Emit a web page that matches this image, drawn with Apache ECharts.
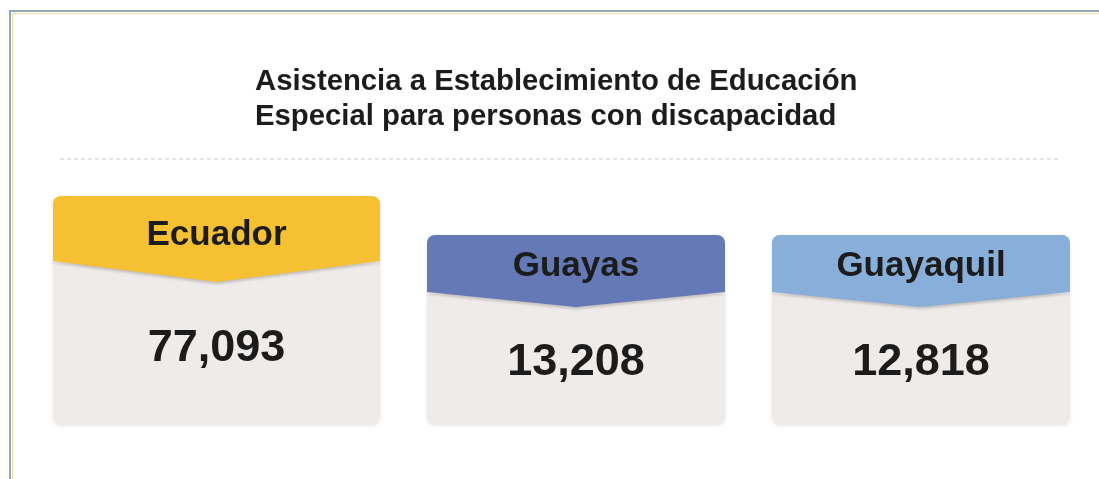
<!DOCTYPE html>
<html>
<head>
<meta charset="utf-8">
<script src="https://cdn.jsdelivr.net/npm/echarts@6/dist/echarts.min.js"></script>
<style>
  html, body { margin: 0; padding: 0; background: #ffffff; }
  #chart { width: 1099px; height: 479px; }
</style>
</head>
<body>
<div id="chart"></div>
<script>
// ---- data ----
const titleLines = ['Asistencia a Establecimiento de Educación', 'Especial para personas con discapacidad'];
const regions = ['Ecuador', 'Guayas', 'Guayaquil'];
const counts = [77093, 13208, 12818];
const headerColors = ['#f5c133', '#6479b5', '#88afd9'];

// ---- card styles (featured first card is larger) ----
const cardStyle = {
  featured: { width: 327, topOffset: 0,  headerSide: 65, headerPoint: 86, labelY: 39, valueY: 153, labelSize: 35, valueSize: 45 },
  normal:   { width: 298, topOffset: 39, headerSide: 57, headerPoint: 72, labelY: 31, valueY: 128, labelSize: 35, valueSize: 45 }
};
const FONT = '"Liberation Sans", Arial, Helvetica, sans-serif';

const chart = echarts.init(document.getElementById('chart'), null, { renderer: 'canvas' });

function renderCard(params, api) {
  const idx = params.dataIndex;
  const st = idx === 0 ? cardStyle.featured : cardStyle.normal;
  const shift = idx === 0 ? 0 : (cardStyle.featured.width - cardStyle.normal.width) / 2;
  const cx = api.coord([api.value(0), 0])[0] + shift;
  const cs = params.coordSys;
  const top = cs.y + st.topOffset;
  const bottom = cs.y + cs.height;
  const left = cx - st.width / 2;
  const right = cx + st.width / 2;
  const color = headerColors[idx];
  return {
    type: 'group',
    children: [
      {
        type: 'rect',
        shape: { x: left, y: top, width: st.width, height: bottom - top, r: 8 },
        style: { fill: '#efebe8', shadowBlur: 4, shadowColor: 'rgba(0,0,0,0.09)', shadowOffsetY: 1 }
      },
      {
        type: 'polygon',
        shape: { points: [[left, top + st.headerSide - 1], [right, top + st.headerSide - 1], [right, top + st.headerSide], [cx, top + st.headerPoint], [left, top + st.headerSide]] },
        style: { fill: color, shadowBlur: 3, shadowColor: 'rgba(0,0,0,0.2)', shadowOffsetY: 2 }
      },
      {
        type: 'rect',
        shape: { x: left, y: top, width: st.width, height: st.headerSide, r: [8, 8, 0, 0] },
        style: { fill: color }
      },
      {
        type: 'text',
        style: {
          x: cx, y: top + st.labelY, text: regions[idx],
          fill: '#1c1c1c', font: 'bold ' + st.labelSize + 'px ' + FONT,
          align: 'center', verticalAlign: 'middle'
        }
      },
      {
        type: 'text',
        style: {
          x: cx, y: top + st.valueY, text: api.value(1).toLocaleString('en-US'),
          fill: '#1c1c1c', font: 'bold ' + st.valueSize + 'px ' + FONT,
          align: 'center', verticalAlign: 'middle'
        }
      }
    ]
  };
}

const option = {
  backgroundColor: '#ffffff',
  animation: false,
  title: {
    text: titleLines.join('\n'),
    left: 255,
    top: 64,
    padding: 0,
    textStyle: { fontFamily: FONT, fontSize: 29.3, fontWeight: 'bold', color: '#1c1c1c', lineHeight: 35 }
  },
  grid: { left: 44, right: 20, top: 196, bottom: 54 },
  xAxis: { type: 'category', data: regions, show: false },
  yAxis: { type: 'value', show: false, min: 0, max: 100000 },
  graphic: [
    { type: 'rect', silent: true, shape: { x: 10, y: 11, width: 1200, height: 600 }, style: { fill: 'none', stroke: '#8eaab3', lineWidth: 2 } },
    { type: 'rect', silent: true, shape: { x: 12.5, y: 13.5, width: 1200, height: 600 }, style: { fill: 'none', stroke: '#ecdca8', lineWidth: 1 } },
    { type: 'line', silent: true, shape: { x1: 60, y1: 159, x2: 1058, y2: 159 }, style: { stroke: '#e4e4e4', lineWidth: 2, lineDash: [4, 3] } }
  ],
  series: [{
    type: 'custom',
    renderItem: renderCard,
    encode: { x: 0, y: 1 },
    data: regions.map((r, i) => [i, counts[i]])
  }]
};
chart.setOption(option);
</script>
</body>
</html>
